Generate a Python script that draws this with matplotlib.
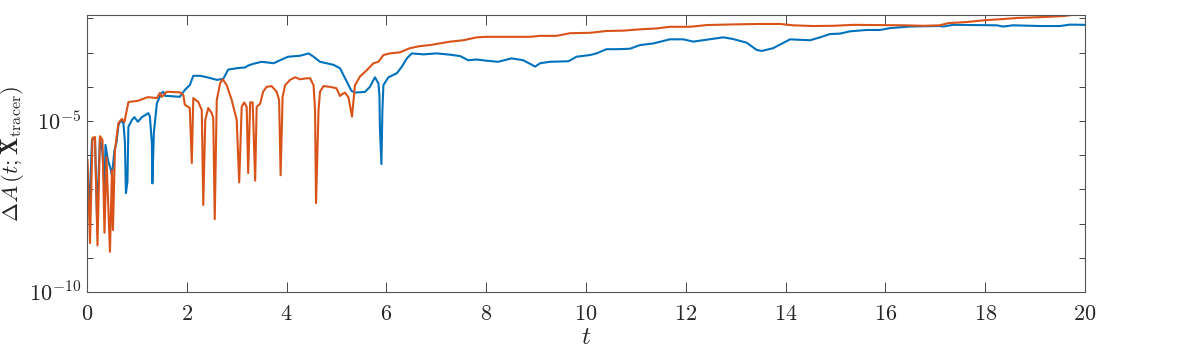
import matplotlib
matplotlib.use("Agg")
import matplotlib.pyplot as plt
from matplotlib.ticker import FixedLocator, NullFormatter

plt.rcParams['mathtext.fontset'] = 'cm'
plt.rcParams['font.family'] = ['DejaVu Serif']

orange_t = [0.01, 0.06, 0.11, 0.16, 0.21, 0.26, 0.31, 0.35, 0.39, 0.46,
            0.50, 0.52, 0.56, 0.63, 0.70, 0.75, 0.83, 1.02, 1.22, 1.40,
            1.46, 1.50, 1.60, 1.86, 1.93, 1.96, 2.06, 2.10, 2.13, 2.23,
            2.30, 2.33, 2.37, 2.43, 2.50, 2.53, 2.56, 2.60, 2.67, 2.72,
            2.80, 2.90, 3.00, 3.05, 3.10, 3.15, 3.20, 3.23, 3.27, 3.32,
            3.37, 3.40, 3.47, 3.53, 3.60, 3.70, 3.80, 3.85, 3.88, 3.92,
            3.97, 4.07, 4.17, 4.27, 4.40, 4.47, 4.54, 4.57, 4.59, 4.64,
            4.67, 4.74, 4.87, 5.00, 5.07, 5.12, 5.17, 5.24, 5.31, 5.37,
            5.47, 5.61, 5.74, 5.84, 5.94, 6.07, 6.27, 6.47, 6.67, 6.87,
            7.07, 7.28, 7.54, 7.81, 8.01, 8.28, 8.48, 8.88, 9.08, 9.41,
            9.68, 10.08, 10.41, 10.75, 11.08, 11.42, 11.68, 12.08, 12.42, 12.95,
            13.49, 13.89, 14.15, 14.55, 14.96, 15.36, 15.89, 16.36, 16.76, 17.09,
            17.26, 17.63, 17.96, 18.36, 18.63, 19.16, 19.56, 19.77, 20.0]
orange_v = [7.2e-7, 2.7e-9, 3.2e-6, 3.4e-6, 2.3e-9, 3.6e-6, 2.8e-6, 5.4e-9, 8.9e-7, 1.5e-9,
            3.7e-7, 6.5e-9, 1.4e-6, 8.7e-6, 1.15e-5, 9.3e-6, 3.6e-5, 3.9e-5, 5.0e-5, 4.7e-5,
            6.6e-5, 5.1e-5, 7.2e-5, 6.9e-5, 5.8e-5, 3.0e-5, 2.4e-5, 5.9e-7, 4.7e-5, 3.6e-5,
            2.1e-5, 3.5e-8, 1.07e-5, 2.4e-5, 1.7e-5, 1.23e-5, 1.35e-8, 4.1e-5, 1.3e-4, 1.66e-4,
            1.12e-4, 4.1e-5, 1.07e-5, 1.6e-7, 2.6e-5, 3.5e-5, 2.6e-5, 3.0e-7, 3.5e-5, 3.5e-5,
            1.8e-7, 2.6e-5, 3.2e-5, 7.2e-5, 1.0e-4, 1.05e-4, 7.2e-5, 4.1e-5, 2.6e-7, 5.1e-5,
            1.12e-4, 1.6e-4, 1.9e-4, 1.66e-4, 1.78e-4, 1.78e-4, 1.12e-4, 2.1e-5, 4.0e-8, 2.1e-5,
            7.2e-5, 1.05e-4, 1.0e-4, 9.1e-5, 5.4e-5, 6.2e-5, 6.8e-5, 4.9e-5, 1.35e-5, 1.12e-4,
            2.0e-4, 3.1e-4, 4.9e-4, 5.4e-4, 8.5e-4, 9.5e-4, 1.02e-3, 1.35e-3, 1.55e-3, 1.66e-3,
            1.86e-3, 2.1e-3, 2.3e-3, 2.8e-3, 2.9e-3, 2.9e-3, 2.9e-3, 2.9e-3, 3.1e-3, 3.1e-3,
            3.7e-3, 3.8e-3, 4.3e-3, 4.4e-3, 4.8e-3, 5.1e-3, 5.7e-3, 5.7e-3, 6.4e-3, 6.7e-3,
            6.9e-3, 6.9e-3, 6.3e-3, 6.0e-3, 6.1e-3, 6.5e-3, 6.4e-3, 6.3e-3, 6.1e-3, 6.3e-3,
            7.3e-3, 7.85e-3, 8.8e-3, 9.6e-3, 1.03e-2, 1.1e-2, 1.17e-2, 1.28e-2, 1.3e-2]

blue_t = [0.00, 0.05, 0.10, 0.16, 0.20, 0.26, 0.31, 0.35, 0.37, 0.42,
          0.48, 0.50, 0.55, 0.59, 0.63, 0.68, 0.73, 0.76, 0.78, 0.81,
          0.83, 0.90, 0.95, 1.02, 1.10, 1.23, 1.26, 1.30, 1.31, 1.34,
          1.40, 1.49, 1.53, 1.57, 1.63, 1.86, 1.96, 2.06, 2.13, 2.27,
          2.41, 2.60, 2.73, 2.83, 3.00, 3.17, 3.23, 3.33, 3.50, 3.74,
          3.87, 4.03, 4.27, 4.44, 4.54, 4.67, 4.94, 5.07, 5.17, 5.24,
          5.30, 5.37, 5.57, 5.67, 5.77, 5.84, 5.86, 5.87, 5.90, 5.92,
          5.94, 6.04, 6.21, 6.31, 6.41, 6.51, 6.74, 7.01, 7.28, 7.48,
          7.64, 7.81, 8.01, 8.24, 8.51, 8.74, 8.88, 8.98, 9.08, 9.28,
          9.65, 9.81, 10.08, 10.21, 10.41, 10.61, 10.88, 11.08, 11.35, 11.68,
          11.95, 12.15, 12.48, 12.75, 12.95, 13.22, 13.42, 13.52, 13.75, 13.96,
          14.09, 14.49, 14.69, 14.89, 15.09, 15.29, 15.62, 15.89, 16.09, 16.49,
          17.09, 17.16, 17.36, 18.23, 18.36, 18.56, 19.10, 19.50, 19.70, 20.00]
blue_v = [5.0e-7, 3.2e-8, 2.8e-6, 3.2e-6, 1.6e-8, 3.2e-6, 1.26e-6, 1.0e-7, 2.0e-6, 7.2e-7,
          3.7e-7, 2.5e-7, 1.4e-6, 2.3e-6, 7.6e-6, 1.07e-5, 8.5e-6, 2.5e-6, 7.8e-8, 1.66e-7,
          6.8e-6, 1.07e-5, 1.3e-5, 9.5e-6, 1.3e-5, 1.7e-5, 1.35e-5, 2.3e-6, 1.5e-7, 4.5e-6,
          3.3e-5, 6.5e-5, 7.2e-5, 5.4e-5, 5.4e-5, 5.1e-5, 8.1e-5, 1.12e-4, 2.1e-4, 2.1e-4,
          1.9e-4, 1.6e-4, 1.7e-4, 3.2e-4, 3.5e-4, 3.7e-4, 4.2e-4, 4.7e-4, 5.4e-4, 4.9e-4,
          6.0e-4, 7.6e-4, 8.1e-4, 9.5e-4, 7.6e-4, 5.4e-4, 4.4e-4, 3.5e-4, 1.8e-4, 1.12e-4,
          7.6e-5, 6.8e-5, 7.1e-5, 1.0e-4, 1.9e-4, 1.26e-4, 5.8e-5, 6.3e-6, 5.5e-7, 2.1e-5,
          1.12e-4, 1.9e-4, 2.5e-4, 3.9e-4, 6.8e-4, 9.5e-4, 8.9e-4, 9.5e-4, 8.7e-4, 7.9e-4,
          6.0e-4, 6.3e-4, 5.8e-4, 5.4e-4, 6.8e-4, 6.0e-4, 4.7e-4, 3.9e-4, 4.9e-4, 5.4e-4,
          5.6e-4, 7.6e-4, 8.5e-4, 9.5e-4, 1.26e-3, 1.26e-3, 1.3e-3, 1.66e-3, 1.86e-3, 2.45e-3,
          2.45e-3, 2.1e-3, 2.45e-3, 2.8e-3, 2.5e-3, 1.95e-3, 1.2e-3, 1.12e-3, 1.35e-3, 1.95e-3,
          2.45e-3, 2.3e-3, 2.8e-3, 3.5e-3, 3.6e-3, 4.2e-3, 4.6e-3, 4.6e-3, 5.2e-3, 5.8e-3,
          6.0e-3, 5.8e-3, 6.5e-3, 6.3e-3, 5.8e-3, 6.3e-3, 6.0e-3, 6.0e-3, 6.6e-3, 6.5e-3]

xticks = [0, 2, 4, 6, 8, 10, 12, 14, 16, 18, 20]
yticks_major = [1e-10, 1e-5]
yticks_minor = [1e-9, 1e-8, 1e-7, 1e-6, 1e-4, 1e-3, 1e-2]

BLUE = '#0072BD'
ORANGE = '#D95319'
AX = '#262626'

fig = plt.figure(figsize=(11.96, 3.49), dpi=100)
ax = fig.add_axes([87/1196, 57/349, 998/1196, 277/349])
ax.plot(blue_t, blue_v, color=BLUE, lw=1.5)
ax.plot(orange_t, orange_v, color=ORANGE, lw=1.5)
ax.set_yscale('log')
ax.set_xlim(0, 20)
ax.set_ylim(1e-10, max(max(orange_v), max(blue_v)) * 0.97)

ax.xaxis.set_major_locator(FixedLocator(xticks))
ax.set_xticklabels([r'$%d$' % v for v in xticks])
ax.yaxis.set_major_locator(FixedLocator(yticks_major))
ax.set_yticklabels([r'$10^{-10}$', r'$10^{-5}$'])
ax.yaxis.set_minor_locator(FixedLocator(yticks_minor))
ax.yaxis.set_minor_formatter(NullFormatter())
ax.xaxis.set_minor_locator(FixedLocator([]))

ax.tick_params(axis='x', which='major', direction='in', length=7, width=0.6,
               top=True, bottom=True, colors=AX, labelsize=16, pad=8)
ax.tick_params(axis='y', which='both', direction='in', length=4.5, width=0.6,
               left=True, right=True, colors=AX, labelsize=16, pad=4)
for s in ax.spines.values():
    s.set_color('#555555')
    s.set_linewidth(0.8)

ax.set_xlabel(r'$t$', fontsize=18, color=AX, labelpad=1)
ax.set_ylabel(r'$\Delta A\,(t;\mathbf{X}_{\mathrm{tracer}})$', fontsize=16.5, color=AX, labelpad=2)

fig.savefig('out.png', dpi=100)
